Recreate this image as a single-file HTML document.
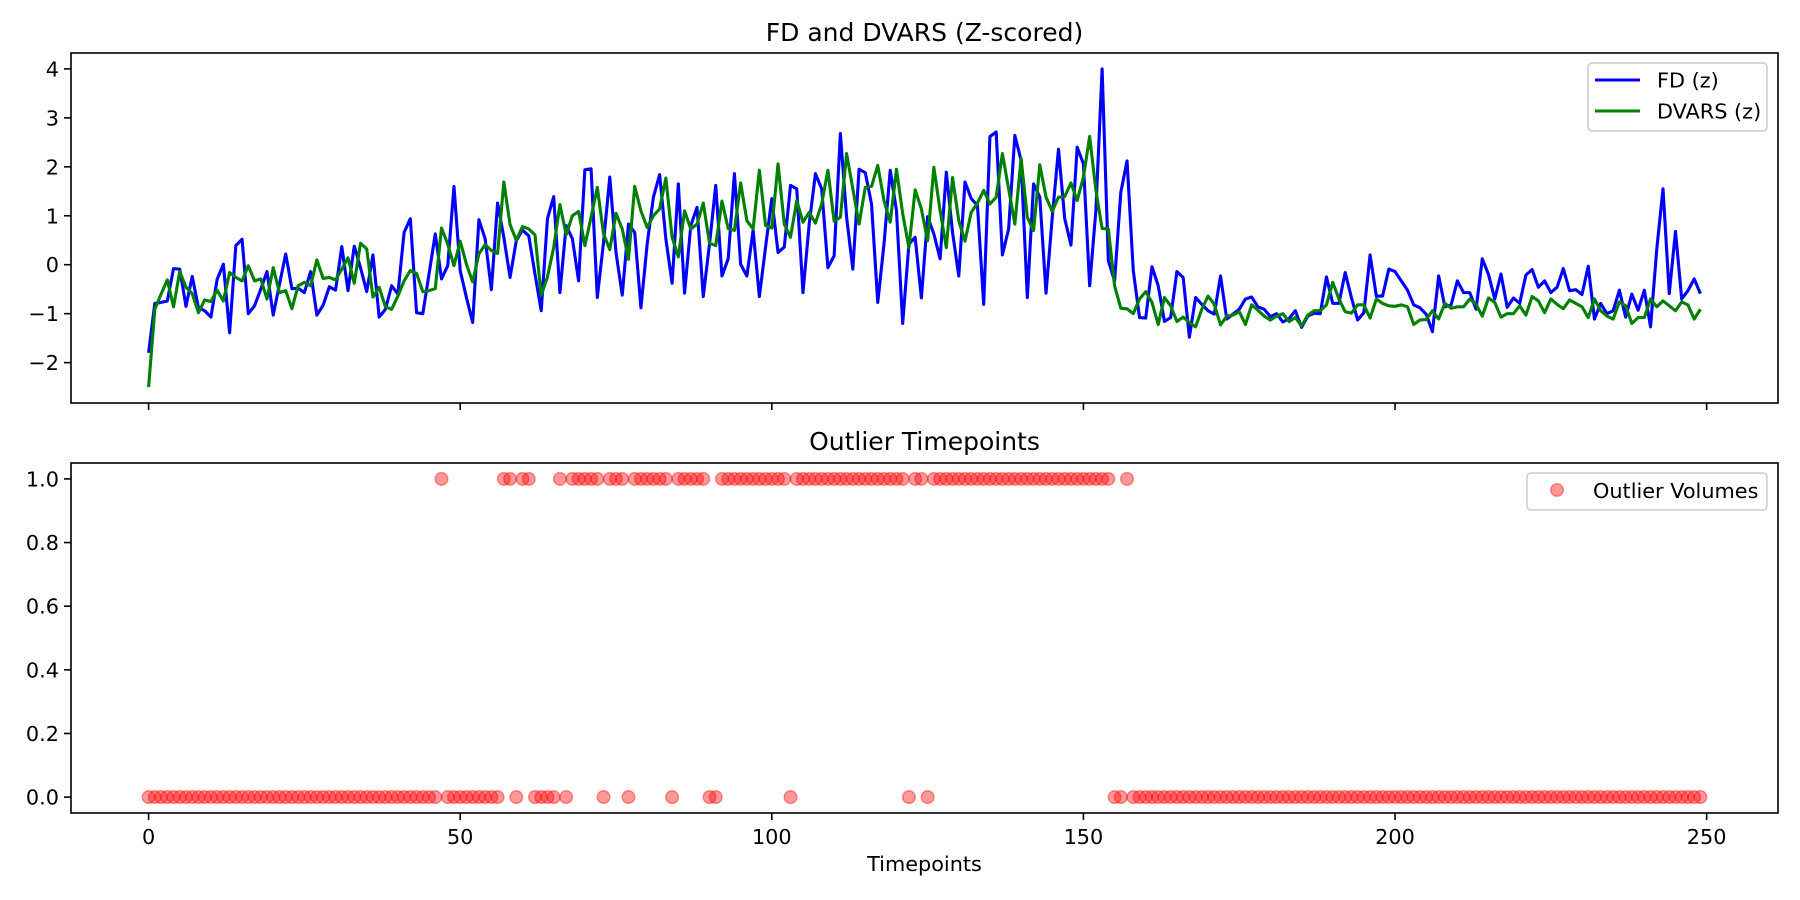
<!DOCTYPE html>
<html>
<head>
<meta charset="utf-8">
<style>
  html,body{margin:0;padding:0;background:#fff;}
  svg{display:block;}
  text{font-family:"DejaVu Sans","Liberation Sans",sans-serif;fill:#000;}
</style>
</head>
<body>
<svg id="chart" width="1800" height="900" viewBox="0 0 1800 900" xmlns="http://www.w3.org/2000/svg"></svg>
<script>
const fdValues = [
-1.80,-0.79,-0.77,-0.74,-0.08,-0.09,-0.85,-0.24,-0.88,-0.94,
-1.07,-0.30,0.01,-1.39,0.39,0.52,-1.00,-0.84,-0.50,-0.14,
-1.03,-0.40,0.22,-0.49,-0.48,-0.57,-0.14,-1.03,-0.83,-0.45,
-0.52,0.37,-0.53,0.38,-0.06,-0.55,0.20,-1.07,-0.91,-0.43,
-0.60,0.66,0.94,-0.98,-1.00,-0.19,0.63,-0.29,-0.02,1.60,
-0.12,-0.67,-1.18,0.92,0.53,-0.51,1.26,0.56,-0.26,0.49,
0.71,0.59,-0.19,-0.94,0.94,1.39,-0.57,0.80,0.53,-0.33,
1.94,1.96,-0.67,0.46,1.79,0.25,-0.62,0.83,0.66,-0.88,
0.42,1.38,1.84,0.53,-0.38,1.65,-0.58,0.80,1.17,-0.65,
0.42,1.62,-0.23,0.12,1.86,0.01,-0.23,0.70,-0.65,0.36,
1.35,0.25,0.36,1.62,1.55,-0.57,0.83,1.86,1.55,-0.06,
0.18,2.68,0.97,-0.09,1.95,1.88,1.24,-0.77,0.42,1.93,
1.11,-1.20,0.42,0.56,-0.68,0.98,0.63,0.12,1.89,0.66,
-0.23,1.69,1.35,1.21,-0.81,2.62,2.71,0.20,0.73,2.64,
2.13,-0.67,1.65,1.38,-0.58,0.97,2.36,0.94,0.40,2.40,
2.06,-0.43,1.11,4.00,0.08,-0.33,1.48,2.12,-0.12,-1.08,
-1.09,-0.04,-0.43,-1.16,-1.08,-0.14,-0.26,-1.48,-0.67,-0.81,
-0.94,-1.01,-0.23,-1.11,-1.01,-0.91,-0.70,-0.66,-0.86,-0.91,
-1.06,-1.00,-1.17,-1.10,-0.94,-1.28,-1.05,-0.99,-1.00,-0.25,
-0.79,-0.79,-0.16,-0.67,-1.13,-0.98,0.20,-0.64,-0.64,-0.09,
-0.14,-0.33,-0.52,-0.82,-0.88,-1.01,-1.37,-0.23,-0.86,-0.82,
-0.33,-0.57,-0.57,-0.91,0.12,-0.20,-0.70,-0.19,-0.87,-0.68,
-0.79,-0.21,-0.10,-0.46,-0.33,-0.57,-0.46,-0.08,-0.53,-0.51,
-0.61,-0.03,-1.11,-0.79,-1.00,-0.94,-0.52,-1.07,-0.60,-0.93,
-0.52,-1.27,0.32,1.55,-0.59,0.68,-0.70,-0.53,-0.29,-0.59
];
const dvarsValues = [
-2.50,-0.91,-0.60,-0.31,-0.86,-0.14,-0.46,-0.59,-0.98,-0.72,
-0.75,-0.52,-0.74,-0.16,-0.26,-0.33,-0.02,-0.33,-0.29,-0.70,
-0.06,-0.57,-0.53,-0.90,-0.43,-0.36,-0.43,0.10,-0.28,-0.26,
-0.31,-0.09,0.14,-0.38,0.44,0.32,-0.66,-0.46,-0.86,-0.91,
-0.64,-0.33,-0.12,-0.18,-0.55,-0.53,-0.49,0.75,0.42,-0.02,
0.48,0.01,-0.35,0.22,0.41,0.29,0.23,1.69,0.82,0.50,
0.78,0.73,0.61,-0.62,-0.25,0.35,1.23,0.61,1.00,1.09,
0.39,0.97,1.58,0.63,0.31,1.05,0.73,0.11,1.60,1.10,
0.76,1.00,1.14,1.77,0.56,0.16,1.10,0.73,0.83,1.26,
0.44,0.39,1.30,0.74,0.70,1.67,0.90,0.73,1.93,0.80,
0.75,2.06,0.83,0.56,1.31,0.87,1.07,0.85,1.24,1.93,
0.89,0.97,2.27,1.55,0.83,1.58,1.60,2.03,1.31,0.87,
1.95,1.04,0.35,1.53,1.14,0.49,1.99,1.11,0.35,1.78,
0.90,0.48,1.07,1.26,1.52,1.24,1.38,2.27,1.55,0.83,
2.17,0.97,0.70,2.04,1.38,1.09,1.38,1.39,1.67,1.31,
1.79,2.62,1.52,0.74,0.73,-0.43,-0.89,-0.90,-1.00,-0.70,
-0.55,-0.77,-1.22,-0.67,-0.84,-1.16,-1.07,-1.18,-1.27,-0.91,
-0.64,-0.81,-1.23,-1.05,-1.03,-0.96,-1.22,-0.82,-0.93,-1.05,
-1.13,-1.05,-1.00,-1.16,-1.08,-1.25,-1.03,-0.94,-0.94,-0.82,
-0.36,-0.70,-0.96,-0.99,-0.82,-0.82,-1.09,-0.70,-0.79,-0.84,
-0.85,-0.82,-0.86,-1.22,-1.13,-1.12,-0.94,-1.11,-0.79,-0.89,
-0.86,-0.86,-0.70,-0.81,-1.05,-0.68,-0.77,-1.07,-1.00,-1.00,
-0.84,-1.03,-0.65,-0.74,-0.98,-0.70,-0.81,-0.90,-0.72,-0.79,
-0.86,-1.08,-0.70,-0.94,-1.05,-1.11,-0.76,-0.84,-1.20,-1.08,
-1.08,-0.70,-0.86,-0.74,-0.84,-0.94,-0.76,-0.82,-1.11,-0.91
];
const outlierFlags = [
0,0,0,0,0,0,0,0,0,0,
0,0,0,0,0,0,0,0,0,0,
0,0,0,0,0,0,0,0,0,0,
0,0,0,0,0,0,0,0,0,0,
0,0,0,0,0,0,0,1,0,0,
0,0,0,0,0,0,0,1,1,0,
1,1,0,0,0,0,1,0,1,1,
1,1,1,0,1,1,1,0,1,1,
1,1,1,1,0,1,1,1,1,1,
0,0,1,1,1,1,1,1,1,1,
1,1,1,0,1,1,1,1,1,1,
1,1,1,1,1,1,1,1,1,1,
1,1,0,1,1,0,1,1,1,1,
1,1,1,1,1,1,1,1,1,1,
1,1,1,1,1,1,1,1,1,1,
1,1,1,1,1,0,0,1,0,0,
0,0,0,0,0,0,0,0,0,0,
0,0,0,0,0,0,0,0,0,0,
0,0,0,0,0,0,0,0,0,0,
0,0,0,0,0,0,0,0,0,0,
0,0,0,0,0,0,0,0,0,0,
0,0,0,0,0,0,0,0,0,0,
0,0,0,0,0,0,0,0,0,0,
0,0,0,0,0,0,0,0,0,0,
0,0,0,0,0,0,0,0,0,0
];
const xTickValues = [0, 50, 100, 150, 200, 250];
const topYTicks = [-2, -1, 0, 1, 2, 3, 4];
const bottomYTicks = [0.0, 0.2, 0.4, 0.6, 0.8, 1.0];

const NS = "http://www.w3.org/2000/svg";
const svg = document.getElementById("chart");
function el(tag, attrs, parent) {
  const e = document.createElementNS(NS, tag);
  for (const k in attrs) e.setAttribute(k, attrs[k]);
  (parent || svg).appendChild(e);
  return e;
}

const L = 71, R = 1778;
const top1 = 53, bot1 = 403, top2 = 463, bot2 = 813;
const n = fdValues.length;
const xMin = -0.05 * (n - 1), xMax = (n - 1) * 1.05;
function xScale(t) { return L + (t - xMin) / (xMax - xMin) * (R - L); }

const allTop = fdValues.concat(dvarsValues);
const dMin = Math.min(...allTop), dMax = Math.max(...allTop);
const yPad = (dMax - dMin) * 0.05;
const y1Min = dMin - yPad, y1Max = dMax + yPad;
function y1Scale(v) { return bot1 - (v - y1Min) / (y1Max - y1Min) * (bot1 - top1); }
function y2Scale(v) { return bot2 - (v + 0.05) / 1.1 * (bot2 - top2); }

// ---- Top panel ----
const gTop = el("g", {});



const t1 = el("text", {x: (L + R) / 2, y: 41, "text-anchor": "middle", "font-size": 25}, gTop);
t1.textContent = "FD and DVARS (Z-scored)";



function linePath(vals) {
  return vals.map((v, i) => (i ? "L" : "M") + xScale(i).toFixed(2) + " " + y1Scale(v).toFixed(2)).join(" ");
}
const fdLine = el("path", {d: linePath(fdValues), fill: "none", stroke: "#0000ff", "stroke-width": 3.1, "stroke-linejoin": "round"}, gTop);


const dvLine = el("path", {d: linePath(dvarsValues), fill: "none", stroke: "#008000", "stroke-width": 3.1, "stroke-linejoin": "round"}, gTop);



const frame1 = el("rect", {x: L, y: top1, width: R - L, height: bot1 - top1, fill: "none", stroke: "#000", "stroke-width": 1.6}, gTop);



topYTicks.forEach(v => {
  const y = y1Scale(v);
  const tk = el("line", {x1: L - 7, x2: L, y1: y, y2: y, stroke: "#000", "stroke-width": 1.6}, gTop);
  
  
  const lb = el("text", {x: L - 12, y: y + 7.5, "text-anchor": "end", "font-size": 20.8}, gTop);
  lb.textContent = String(v).replace("-", "\u2212");
  
  
});
xTickValues.forEach(v => {
  const x = xScale(v);
  const tk = el("line", {x1: x, x2: x, y1: bot1, y2: bot1 + 7, stroke: "#000", "stroke-width": 1.6}, gTop);
  
  
});

// top legend
const lg1 = el("g", {}, gTop);


el("rect", {x: 1588, y: 63, width: 179, height: 68, rx: 4, fill: "#fff", "fill-opacity": 0.8, stroke: "#cccccc", "stroke-width": 1.5}, lg1);
const le1 = el("g", {}, lg1);


el("line", {x1: 1595, x2: 1640, y1: 80, y2: 80, stroke: "#0000ff", "stroke-width": 3.1}, le1);
const lt1 = el("text", {x: 1657, y: 87.5, "font-size": 20.8}, le1);
lt1.textContent = "FD (z)";
const le2 = el("g", {}, lg1);


el("line", {x1: 1595, x2: 1640, y1: 111, y2: 111, stroke: "#008000", "stroke-width": 3.1}, le2);
const lt2 = el("text", {x: 1657, y: 118.5, "font-size": 20.8}, le2);
lt2.textContent = "DVARS (z)";

// ---- Bottom panel ----
const gBot = el("g", {});



const t2 = el("text", {x: (L + R) / 2, y: 450, "text-anchor": "middle", "font-size": 25}, gBot);
t2.textContent = "Outlier Timepoints";



outlierFlags.forEach((f, i) => {
  const c = el("circle", {cx: xScale(i), cy: y2Scale(f), r: 6.3, fill: "#ff0000", "fill-opacity": 0.4, stroke: "#ff0000", "stroke-opacity": 0.4, "stroke-width": 1.5}, gBot);
  
  
});

const frame2 = el("rect", {x: L, y: top2, width: R - L, height: bot2 - top2, fill: "none", stroke: "#000", "stroke-width": 1.6}, gBot);



bottomYTicks.forEach(v => {
  const y = y2Scale(v);
  const tk = el("line", {x1: L - 7, x2: L, y1: y, y2: y, stroke: "#000", "stroke-width": 1.6}, gBot);
  
  
  const lb = el("text", {x: L - 12, y: y + 7.5, "text-anchor": "end", "font-size": 20.8}, gBot);
  lb.textContent = v.toFixed(1);
  
  
});
xTickValues.forEach(v => {
  const x = xScale(v);
  const tk = el("line", {x1: x, x2: x, y1: bot2, y2: bot2 + 7, stroke: "#000", "stroke-width": 1.6}, gBot);
  
  
  const lb = el("text", {x: x, y: bot2 + 31, "text-anchor": "middle", "font-size": 20.8}, gBot);
  lb.textContent = String(v);
  
  
});
const xl = el("text", {x: (L + R) / 2, y: 871, "text-anchor": "middle", "font-size": 20.8}, gBot);
xl.textContent = "Timepoints";



// bottom legend
const lg2 = el("g", {}, gBot);


el("rect", {x: 1527, y: 473, width: 240, height: 37, rx: 4, fill: "#fff", "fill-opacity": 0.8, stroke: "#cccccc", "stroke-width": 1.5}, lg2);
el("circle", {cx: 1557, cy: 490, r: 6.3, fill: "#ff0000", "fill-opacity": 0.4, stroke: "#ff0000", "stroke-opacity": 0.4, "stroke-width": 1.5}, lg2);
const lt3 = el("text", {x: 1593, y: 498, "font-size": 20.8}, lg2);
lt3.textContent = "Outlier Volumes";


</script>
</body>
</html>
